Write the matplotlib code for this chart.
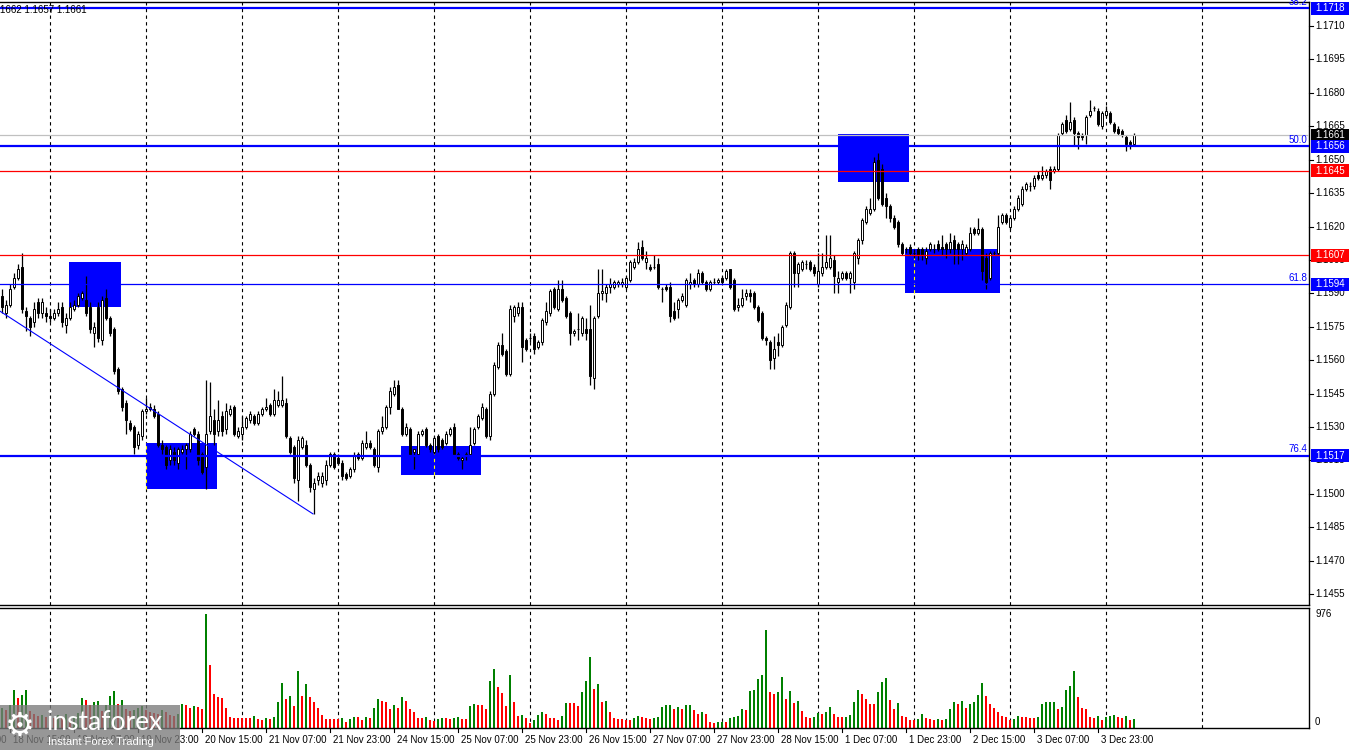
import matplotlib
matplotlib.use("Agg")
import matplotlib.pyplot as plt
import numpy as np
import pandas as pd
from matplotlib.patches import Rectangle
from matplotlib.lines import Line2D
from matplotlib.collections import LineCollection
from matplotlib.transforms import IdentityTransform

plt.rcParams['font.family'] = ['Liberation Sans', 'DejaVu Sans']

# ---------------- data ----------------
symbol_info = "1662 1.1657 1.1661"
first_bar_time = "2025-11-18 12:00"

opens = [
    1.1589, 1.1581, 1.1585, 1.1593, 1.1597, 1.1602, 1.1582, 1.1579, 1.1577, 1.1586,
    1.1581, 1.1581, 1.1580, 1.1579, 1.1581, 1.1584, 1.1576, 1.1579, 1.1583, 1.1585,
    1.1588, 1.1587, 1.1584, 1.1572, 1.1584, 1.1569, 1.1588, 1.1579, 1.1574, 1.1556,
    1.1547, 1.1541, 1.1532, 1.1530, 1.1522, 1.1526, 1.1537, 1.1538, 1.1538, 1.1536,
    1.1522, 1.1521, 1.1515, 1.1519, 1.1514, 1.1519, 1.1520, 1.1520, 1.1529, 1.1527,
    1.1518, 1.1512, 1.1528, 1.1533, 1.1528, 1.1535, 1.1529, 1.1536, 1.1539, 1.1526,
    1.1527, 1.1530, 1.1533, 1.1535, 1.1532, 1.1536, 1.1538, 1.1540, 1.1536, 1.1540,
    1.1540, 1.1541, 1.1525, 1.1521, 1.1506, 1.1521, 1.1522, 1.1513, 1.1502, 1.1506,
    1.1505, 1.1506, 1.1513, 1.1518, 1.1516, 1.1514, 1.1509, 1.1508, 1.1511, 1.1518,
    1.1516, 1.1521, 1.1523, 1.1520, 1.1512, 1.1528, 1.1530, 1.1539, 1.1545, 1.1549,
    1.1538, 1.1527, 1.1529, 1.1519, 1.1518, 1.1527, 1.1529, 1.1522, 1.1519, 1.1526,
    1.1524, 1.1523, 1.1527, 1.1530, 1.1518, 1.1515, 1.1517, 1.1518, 1.1523, 1.1530,
    1.1534, 1.1538, 1.1526, 1.1545, 1.1557, 1.1567, 1.1564, 1.1554, 1.1580, 1.1581,
    1.1584, 1.1569, 1.1570, 1.1571, 1.1566, 1.1568, 1.1577, 1.1581, 1.1592, 1.1583,
    1.1592, 1.1588, 1.1581, 1.1572, 1.1574, 1.1572, 1.1574, 1.1574, 1.1552, 1.1580,
    1.1590, 1.1590, 1.1593, 1.1593, 1.1594, 1.1594, 1.1593, 1.1596, 1.1602, 1.1604,
    1.1611, 1.1604, 1.1602, 1.1602, 1.1603, 1.1592, 1.1593, 1.1593, 1.1582, 1.1583,
    1.1587, 1.1585, 1.1594, 1.1596, 1.1594, 1.1599, 1.1595, 1.1592, 1.1595, 1.1595,
    1.1597, 1.1597, 1.1601, 1.1596, 1.1584, 1.1585, 1.1589, 1.1590, 1.1590, 1.1584,
    1.1581, 1.1570, 1.1568, 1.1561, 1.1568, 1.1567, 1.1576, 1.1584, 1.1608, 1.1599,
    1.1601, 1.1603, 1.1604, 1.1602, 1.1594, 1.1599, 1.1602, 1.1602, 1.1605, 1.1595,
    1.1597, 1.1599, 1.1597, 1.1595, 1.1606, 1.1614, 1.1622, 1.1626, 1.1628, 1.1650,
    1.1646, 1.1633, 1.1629, 1.1624, 1.1622, 1.1612, 1.1610, 1.1611, 1.1608, 1.1610,
    1.1610, 1.1606, 1.1610, 1.1610, 1.1612, 1.1611, 1.1612, 1.1610, 1.1614, 1.1612,
    1.1610, 1.1608, 1.1610, 1.1619, 1.1617, 1.1619, 1.1606, 1.1597, 1.1608, 1.1608,
    1.1622, 1.1625, 1.1620, 1.1624, 1.1628, 1.1630, 1.1637, 1.1638, 1.1638, 1.1643,
    1.1642, 1.1643, 1.1646, 1.1645, 1.1646, 1.1662, 1.1668, 1.1664, 1.1668, 1.1662,
    1.1661, 1.1661, 1.1670, 1.1673, 1.1672, 1.1665, 1.1670, 1.1671, 1.1666, 1.1664,
    1.1663, 1.1660, 1.1658, 1.1657,
]

highs = [
    1.1592, 1.1587, 1.1594, 1.1599, 1.1603, 1.1608, 1.1584, 1.1580, 1.1586, 1.1588,
    1.1588, 1.1584, 1.1583, 1.1583, 1.1586, 1.1586, 1.1581, 1.1586, 1.1587, 1.1590,
    1.1591, 1.1598, 1.1586, 1.1577, 1.1586, 1.1589, 1.1592, 1.1580, 1.1575, 1.1557,
    1.1548, 1.1542, 1.1533, 1.1531, 1.1528, 1.1538, 1.1543, 1.1541, 1.1540, 1.1537,
    1.1524, 1.1522, 1.1522, 1.1521, 1.1521, 1.1522, 1.1523, 1.1528, 1.1530, 1.1528,
    1.1519, 1.1551, 1.1550, 1.1538, 1.1542, 1.1537, 1.1541, 1.1540, 1.1540, 1.1530,
    1.1535, 1.1535, 1.1537, 1.1536, 1.1537, 1.1539, 1.1543, 1.1541, 1.1547, 1.1546,
    1.1553, 1.1543, 1.1526, 1.1522, 1.1526, 1.1526, 1.1524, 1.1514, 1.1507, 1.1510,
    1.1510, 1.1515, 1.1519, 1.1519, 1.1518, 1.1515, 1.1510, 1.1512, 1.1519, 1.1519,
    1.1524, 1.1528, 1.1524, 1.1521, 1.1529, 1.1535, 1.1540, 1.1548, 1.1551, 1.1551,
    1.1539, 1.1532, 1.1530, 1.1520, 1.1528, 1.1529, 1.1530, 1.1523, 1.1526, 1.1527,
    1.1525, 1.1528, 1.1530, 1.1532, 1.1519, 1.1517, 1.1519, 1.1530, 1.1530, 1.1536,
    1.1541, 1.1539, 1.1546, 1.1559, 1.1568, 1.1572, 1.1565, 1.1585, 1.1585, 1.1586,
    1.1586, 1.1570, 1.1572, 1.1572, 1.1569, 1.1579, 1.1586, 1.1592, 1.1593, 1.1596,
    1.1596, 1.1589, 1.1582, 1.1574, 1.1581, 1.1580, 1.1579, 1.1585, 1.1580, 1.1601,
    1.1601, 1.1594, 1.1597, 1.1596, 1.1596, 1.1597, 1.1598, 1.1605, 1.1606, 1.1613,
    1.1614, 1.1609, 1.1603, 1.1607, 1.1606, 1.1593, 1.1594, 1.1595, 1.1586, 1.1588,
    1.1590, 1.1597, 1.1599, 1.1597, 1.1601, 1.1600, 1.1596, 1.1596, 1.1597, 1.1597,
    1.1598, 1.1601, 1.1601, 1.1597, 1.1588, 1.1592, 1.1592, 1.1592, 1.1591, 1.1585,
    1.1582, 1.1571, 1.1569, 1.1571, 1.1572, 1.1576, 1.1586, 1.1609, 1.1609, 1.1604,
    1.1605, 1.1605, 1.1605, 1.1603, 1.1608, 1.1608, 1.1616, 1.1616, 1.1607, 1.1600,
    1.1600, 1.1600, 1.1600, 1.1609, 1.1615, 1.1624, 1.1629, 1.1633, 1.1651, 1.1653,
    1.1648, 1.1635, 1.1630, 1.1625, 1.1623, 1.1613, 1.1611, 1.1612, 1.1610, 1.1611,
    1.1611, 1.1611, 1.1613, 1.1612, 1.1614, 1.1616, 1.1613, 1.1617, 1.1616, 1.1613,
    1.1614, 1.1612, 1.1620, 1.1620, 1.1624, 1.1620, 1.1608, 1.1609, 1.1609, 1.1625,
    1.1626, 1.1626, 1.1625, 1.1629, 1.1634, 1.1638, 1.1640, 1.1640, 1.1643, 1.1645,
    1.1647, 1.1646, 1.1647, 1.1647, 1.1662, 1.1667, 1.1670, 1.1676, 1.1669, 1.1663,
    1.1662, 1.1670, 1.1677, 1.1674, 1.1673, 1.1672, 1.1674, 1.1672, 1.1667, 1.1665,
    1.1664, 1.1661, 1.1659, 1.1662,
]

lows = [
    1.1581, 1.1579, 1.1584, 1.1592, 1.1596, 1.1581, 1.1573, 1.1571, 1.1575, 1.1579,
    1.1579, 1.1577, 1.1577, 1.1578, 1.1580, 1.1575, 1.1572, 1.1578, 1.1582, 1.1584,
    1.1587, 1.1580, 1.1572, 1.1566, 1.1568, 1.1567, 1.1578, 1.1571, 1.1554, 1.1545,
    1.1537, 1.1527, 1.1528, 1.1518, 1.1520, 1.1524, 1.1536, 1.1537, 1.1534, 1.1521,
    1.1518, 1.1511, 1.1513, 1.1513, 1.1511, 1.1518, 1.1511, 1.1519, 1.1526, 1.1513,
    1.1509, 1.1502, 1.1527, 1.1522, 1.1526, 1.1526, 1.1527, 1.1535, 1.1526, 1.1525,
    1.1524, 1.1529, 1.1532, 1.1531, 1.1531, 1.1535, 1.1537, 1.1535, 1.1535, 1.1539,
    1.1539, 1.1525, 1.1518, 1.1505, 1.1497, 1.1520, 1.1512, 1.1501, 1.1491, 1.1504,
    1.1503, 1.1504, 1.1512, 1.1511, 1.1513, 1.1506, 1.1506, 1.1507, 1.1510, 1.1515,
    1.1515, 1.1520, 1.1520, 1.1512, 1.1510, 1.1527, 1.1529, 1.1536, 1.1544, 1.1538,
    1.1526, 1.1526, 1.1517, 1.1511, 1.1517, 1.1526, 1.1521, 1.1519, 1.1518, 1.1519,
    1.1520, 1.1522, 1.1526, 1.1517, 1.1515, 1.1511, 1.1515, 1.1517, 1.1522, 1.1529,
    1.1533, 1.1525, 1.1524, 1.1544, 1.1556, 1.1562, 1.1553, 1.1553, 1.1577, 1.1580,
    1.1559, 1.1564, 1.1568, 1.1563, 1.1565, 1.1567, 1.1576, 1.1580, 1.1583, 1.1582,
    1.1586, 1.1579, 1.1567, 1.1571, 1.1569, 1.1571, 1.1569, 1.1549, 1.1547, 1.1579,
    1.1587, 1.1586, 1.1590, 1.1592, 1.1593, 1.1593, 1.1592, 1.1595, 1.1601, 1.1603,
    1.1605, 1.1601, 1.1600, 1.1601, 1.1592, 1.1586, 1.1591, 1.1577, 1.1578, 1.1579,
    1.1586, 1.1584, 1.1592, 1.1593, 1.1593, 1.1594, 1.1591, 1.1591, 1.1594, 1.1594,
    1.1594, 1.1596, 1.1592, 1.1582, 1.1582, 1.1584, 1.1587, 1.1586, 1.1583, 1.1577,
    1.1569, 1.1567, 1.1556, 1.1556, 1.1562, 1.1566, 1.1575, 1.1583, 1.1593, 1.1593,
    1.1600, 1.1601, 1.1600, 1.1598, 1.1593, 1.1598, 1.1601, 1.1601, 1.1590, 1.1590,
    1.1596, 1.1596, 1.1590, 1.1592, 1.1603, 1.1612, 1.1621, 1.1625, 1.1627, 1.1632,
    1.1629, 1.1624, 1.1622, 1.1619, 1.1611, 1.1607, 1.1608, 1.1607, 1.1606, 1.1605,
    1.1605, 1.1603, 1.1609, 1.1608, 1.1609, 1.1607, 1.1606, 1.1608, 1.1603, 1.1603,
    1.1605, 1.1607, 1.1609, 1.1616, 1.1616, 1.1596, 1.1592, 1.1596, 1.1607, 1.1607,
    1.1621, 1.1621, 1.1619, 1.1623, 1.1627, 1.1629, 1.1636, 1.1636, 1.1637, 1.1641,
    1.1641, 1.1642, 1.1637, 1.1644, 1.1645, 1.1661, 1.1662, 1.1663, 1.1656, 1.1655,
    1.1659, 1.1657, 1.1669, 1.1672, 1.1665, 1.1664, 1.1669, 1.1666, 1.1662, 1.1661,
    1.1660, 1.1654, 1.1655, 1.1657,
]

closes = [
    1.1584, 1.1585, 1.1592, 1.1597, 1.1601, 1.1583, 1.1580, 1.1575, 1.1583, 1.1581,
    1.1586, 1.1580, 1.1579, 1.1581, 1.1583, 1.1577, 1.1579, 1.1584, 1.1585, 1.1589,
    1.1590, 1.1581, 1.1574, 1.1575, 1.1570, 1.1587, 1.1579, 1.1572, 1.1555, 1.1546,
    1.1539, 1.1533, 1.1529, 1.1521, 1.1527, 1.1537, 1.1538, 1.1539, 1.1535, 1.1522,
    1.1520, 1.1513, 1.1520, 1.1515, 1.1520, 1.1520, 1.1522, 1.1527, 1.1527, 1.1515,
    1.1510, 1.1527, 1.1535, 1.1527, 1.1533, 1.1528, 1.1537, 1.1538, 1.1527, 1.1528,
    1.1530, 1.1534, 1.1536, 1.1532, 1.1536, 1.1538, 1.1539, 1.1536, 1.1542, 1.1542,
    1.1542, 1.1526, 1.1519, 1.1507, 1.1524, 1.1525, 1.1513, 1.1503, 1.1505, 1.1508,
    1.1508, 1.1513, 1.1518, 1.1512, 1.1514, 1.1508, 1.1507, 1.1511, 1.1517, 1.1516,
    1.1523, 1.1523, 1.1521, 1.1513, 1.1528, 1.1530, 1.1539, 1.1546, 1.1548, 1.1538,
    1.1527, 1.1530, 1.1518, 1.1520, 1.1527, 1.1528, 1.1522, 1.1520, 1.1525, 1.1520,
    1.1521, 1.1527, 1.1529, 1.1518, 1.1516, 1.1516, 1.1518, 1.1522, 1.1529, 1.1535,
    1.1539, 1.1526, 1.1545, 1.1558, 1.1567, 1.1563, 1.1554, 1.1583, 1.1584, 1.1584,
    1.1566, 1.1565, 1.1570, 1.1565, 1.1568, 1.1578, 1.1582, 1.1591, 1.1584, 1.1592,
    1.1587, 1.1580, 1.1572, 1.1573, 1.1574, 1.1579, 1.1572, 1.1553, 1.1579, 1.1590,
    1.1591, 1.1593, 1.1594, 1.1595, 1.1595, 1.1595, 1.1597, 1.1604, 1.1604, 1.1610,
    1.1606, 1.1606, 1.1601, 1.1602, 1.1593, 1.1592, 1.1592, 1.1580, 1.1579, 1.1587,
    1.1589, 1.1596, 1.1595, 1.1594, 1.1599, 1.1595, 1.1592, 1.1595, 1.1595, 1.1596,
    1.1595, 1.1600, 1.1593, 1.1583, 1.1585, 1.1588, 1.1590, 1.1589, 1.1584, 1.1578,
    1.1570, 1.1569, 1.1560, 1.1565, 1.1567, 1.1575, 1.1585, 1.1608, 1.1599, 1.1603,
    1.1604, 1.1603, 1.1601, 1.1599, 1.1600, 1.1602, 1.1604, 1.1606, 1.1598, 1.1597,
    1.1599, 1.1597, 1.1599, 1.1608, 1.1614, 1.1623, 1.1628, 1.1628, 1.1649, 1.1633,
    1.1630, 1.1629, 1.1624, 1.1620, 1.1612, 1.1608, 1.1610, 1.1608, 1.1608, 1.1607,
    1.1607, 1.1609, 1.1612, 1.1610, 1.1610, 1.1610, 1.1610, 1.1613, 1.1610, 1.1610,
    1.1612, 1.1611, 1.1617, 1.1617, 1.1619, 1.1600, 1.1595, 1.1608, 1.1608, 1.1620,
    1.1625, 1.1622, 1.1624, 1.1628, 1.1633, 1.1637, 1.1639, 1.1638, 1.1642, 1.1642,
    1.1643, 1.1645, 1.1641, 1.1646, 1.1661, 1.1666, 1.1663, 1.1667, 1.1662, 1.1660,
    1.1660, 1.1669, 1.1672, 1.1673, 1.1666, 1.1671, 1.1672, 1.1667, 1.1663, 1.1662,
    1.1661, 1.1657, 1.1657, 1.1661,
]

volumes = [
    171, 154, 197, 325, 257, 282, 325, 146, 120, 103,
    111, 94, 103, 86, 111, 103, 120, 94, 103, 128,
    257, 240, 197, 223, 231, 146, 197, 274, 317, 205,
    240, 163, 146, 154, 171, 188, 154, 137, 128, 120,
    154, 137, 111, 103, 120, 205, 200, 171, 188, 180,
    163, 976, 539, 291, 265, 257, 171, 94, 86, 85,
    84, 83, 82, 103, 77, 68, 86, 77, 94, 223,
    385, 248, 274, 188, 488, 274, 377, 265, 223, 171,
    111, 77, 76, 75, 74, 86, 51, 77, 94, 93,
    68, 94, 86, 171, 248, 231, 223, 163, 197, 171,
    265, 231, 163, 137, 86, 85, 94, 68, 60, 77,
    86, 85, 77, 86, 94, 77, 76, 188, 205, 197,
    196, 163, 402, 505, 351, 300, 188, 454, 223, 103,
    111, 86, 43, 68, 111, 137, 120, 86, 85, 68,
    103, 214, 213, 212, 188, 308, 402, 608, 334, 377,
    223, 231, 137, 86, 77, 76, 68, 67, 86, 103,
    94, 86, 77, 86, 94, 180, 197, 198, 163, 180,
    163, 197, 198, 154, 120, 137, 120, 51, 43, 51,
    52, 51, 86, 94, 103, 163, 154, 317, 325, 419,
    454, 839, 308, 291, 308, 437, 248, 317, 214, 231,
    146, 94, 86, 90, 128, 120, 137, 180, 120, 94,
    93, 95, 111, 223, 325, 291, 248, 205, 204, 308,
    394, 428, 240, 163, 214, 103, 94, 68, 67, 77,
    120, 86, 77, 68, 77, 68, 77, 163, 223, 205,
    231, 171, 205, 223, 282, 385, 274, 205, 171, 137,
    103, 94, 68, 77, 103, 94, 93, 86, 85, 94,
    205, 223, 224, 225, 163, 180, 325, 360, 488, 265,
    171, 163, 94, 86, 103, 68, 94, 103, 111, 94,
    86, 103, 68, 77,
]

x_tick_labels = ["17 Nov 23:00", "18 Nov 15:00", "19 Nov 07:00", "19 Nov 23:00",
                 "20 Nov 15:00", "21 Nov 07:00", "21 Nov 23:00", "24 Nov 15:00",
                 "25 Nov 07:00", "25 Nov 23:00", "26 Nov 15:00", "27 Nov 07:00",
                 "27 Nov 23:00", "28 Nov 15:00", "1 Dec 07:00", "1 Dec 23:00",
                 "2 Dec 15:00", "3 Dec 07:00", "3 Dec 23:00"]
price_ticks = [1.1455, 1.1470, 1.1485, 1.1500, 1.1515, 1.1530, 1.1545, 1.1560,
               1.1575, 1.1590, 1.1605, 1.1620, 1.1635, 1.1650, 1.1665, 1.1680,
               1.1695, 1.1710]
volume_max_label = 976

level_prices = [1.1718, 1.1656, 1.1645, 1.1607, 1.1594, 1.1517]
level_colors = ['#0000FF', '#0000FF', '#FF0000', '#FF0000', '#0000FF', '#0000FF']
level_widths = [1.6, 1.6, 0.9, 0.9, 0.9, 1.6]
fib_prices = [1.1718, 1.1656, 1.1594, 1.1517]
fib_labels = ["38.2", "50.0", "61.8", "76.4"]
bid_price = 1.1661
tag_prices = [1.1718, 1.1661, 1.1656, 1.1645, 1.1607, 1.1594, 1.1517]
tag_colors = ['#0000FF', '#000000', '#0000FF', '#FF0000', '#FF0000', '#0000FF', '#0000FF']

zone_start = [16.75, 36.0, 99.75, 209.0, 225.75]
zone_end = [29.75, 53.75, 119.75, 226.75, 249.5]
zone_low = [1.1584, 1.1502, 1.15085, 1.1640, 1.1590]
zone_high = [1.1604, 1.1523, 1.15215, 1.16616, 1.1610]

trend_x = [-0.5, 77.75]
trend_y = [1.1582, 1.1491]

# ---------------- time axis ----------------
all_times = pd.date_range("2025-11-17 00:00", "2025-12-06 00:00", freq="h")
all_times = all_times[all_times.dayofweek < 5]
i0 = list(all_times).index(pd.Timestamp(first_bar_time))
positions = np.arange(len(all_times)) - i0
label_of = {f"{t.day} {t.strftime('%b %H:%M')}": p for t, p in zip(all_times, positions)}
XMIN, XMAX = -0.5, 326.75
grid_pos = [p for t, p in zip(all_times, positions) if t.hour == 0 and XMIN < p < XMAX]

n = len(closes)
idx = np.arange(n)

# ---------------- figure ----------------
fig = plt.figure(figsize=(13.5, 7.5), dpi=100)
fig.patch.set_facecolor('white')
ax = fig.add_axes([0, 1 - 605 / 750, 1309 / 1350, 603 / 750])
axv = fig.add_axes([0, 1 - 728 / 750, 1309 / 1350, 120.5 / 750])

for a in (ax, axv):
    a.set_xlim(XMIN, XMAX)
    a.set_xticks([])
    a.set_yticks([])
    a.spines['left'].set_visible(False)
    for s in ('top', 'right', 'bottom'):
        a.spines[s].set_linewidth(1.0)
        a.spines[s].set_color('black')
    a.set_facecolor('white')
ax.set_ylim(1.14501, 1.17208)
axv.set_ylim(0, 1031.6)

dash = (0, (3, 3))
for g in grid_pos:
    ax.axvline(g, color='black', lw=0.8, ls=dash, zorder=1)
    axv.axvline(g, color='black', lw=0.8, ls=dash, zorder=1)

# zones
for x0, x1, lo, hi in zip(zone_start, zone_end, zone_low, zone_high):
    ax.add_patch(Rectangle((x0, lo), x1 - x0, hi - lo, facecolor='#0000FF',
                           edgecolor='none', zorder=2))
    for g in grid_pos:
        if x0 <= g <= x1:
            ax.plot([g, g], [lo, hi], color='#FFFF00', lw=0.8, ls=dash, zorder=2.5)

# candles
segs = [[(i, l), (i, h)] for i, l, h in zip(idx, lows, highs)]
ax.add_collection(LineCollection(segs, colors='black', linewidths=0.9, zorder=3.9))
bw = 0.62
for i, o, c in zip(idx, opens, closes):
    bull = c >= o
    ax.add_patch(Rectangle((i - bw / 2, min(o, c)), bw, max(abs(c - o), 1e-6),
                           facecolor='white' if bull else 'black',
                           edgecolor='black', linewidth=0.7, zorder=4))

# lines
ax.axhline(bid_price, color='#C0C0C0', lw=0.9, zorder=4.5)
for p, col, lw in zip(level_prices, level_colors, level_widths):
    ax.axhline(p, color=col, lw=lw, zorder=5)
ax.plot(trend_x, trend_y, color='#0000FF', lw=0.8, zorder=5)

# volumes
vcols = ['#008000'] + ['#008000' if volumes[k] > volumes[k - 1] else '#FF0000'
                       for k in range(1, n)]
axv.bar(idx, volumes, width=0.72, color=vcols, zorder=2)

# ---------------- text / axis labels ----------------
I = IdentityTransform()
FS = 7


def ydisp(a, v):
    return a.transData.transform((0, v))[1]


def xdisp(a, v):
    return a.transData.transform((v, 0))[0]


right = 1309
for p in price_ticks:
    y = ydisp(ax, p)
    fig.add_artist(Line2D([right, right + 4], [y, y], transform=I, color='black',
                          lw=0.8, zorder=10))
    fig.text(right + 6, y, f"{p:.4f}", transform=I, fontsize=FS, va='center',
             ha='left', color='black', zorder=10)

for p, col in zip(tag_prices, tag_colors):
    y = ydisp(ax, p)
    fig.add_artist(Rectangle((right + 2, y - 6.5), 38, 13, transform=I,
                             facecolor=col, edgecolor='none', zorder=11))
    fig.text(right + 6, y, f"{p:.4f}", transform=I, fontsize=FS, va='center',
             ha='left', color='white', zorder=12)

for p, lab in zip(fib_prices, fib_labels):
    y = ydisp(ax, p)
    fig.text(right - 2, y + 1.5, lab, transform=I, fontsize=FS, va='bottom',
             ha='right', color='#0000FF', zorder=12)

yv = ydisp(axv, volume_max_label)
fig.text(right + 6, yv, str(volume_max_label), transform=I, fontsize=FS,
         va='center', ha='left', zorder=10)
fig.text(right + 6, ydisp(axv, 0) + 6, "0", transform=I, fontsize=FS,
         va='center', ha='left', zorder=10)

ybot = ydisp(axv, 0)
for lab in x_tick_labels:
    p = label_of[lab]
    x = xdisp(axv, p)
    fig.add_artist(Line2D([x - 3.7, x - 3.7], [ybot, ybot - 4], transform=I,
                          color='black', lw=0.8, zorder=10))
    fig.text(x - 1, ybot - 12, lab, transform=I, fontsize=FS, va='center',
             ha='left', color='black', zorder=10)

fig.text(0, 740, symbol_info, transform=I, fontsize=FS, va='center', ha='left',
         color='black', zorder=12)

# watermark
fig.add_artist(Rectangle((0, 0), 180, 45, transform=I, facecolor='#7a7a7a',
                         edgecolor='none', alpha=0.78, zorder=20))
fig.text(5, 24, "\u2699", transform=I, fontsize=24, color='white', va='center',
         ha='left', family=['DejaVu Sans'], zorder=21)
fig.text(46, 28, "instaforex", transform=I, fontsize=19, color='white',
         va='center', ha='left', family=['Lato', 'DejaVu Sans'], zorder=21)
fig.text(48, 8, "Instant Forex Trading", transform=I, fontsize=8, color='white',
         va='center', ha='left', zorder=21)

fig.savefig("out.png", dpi=100)
